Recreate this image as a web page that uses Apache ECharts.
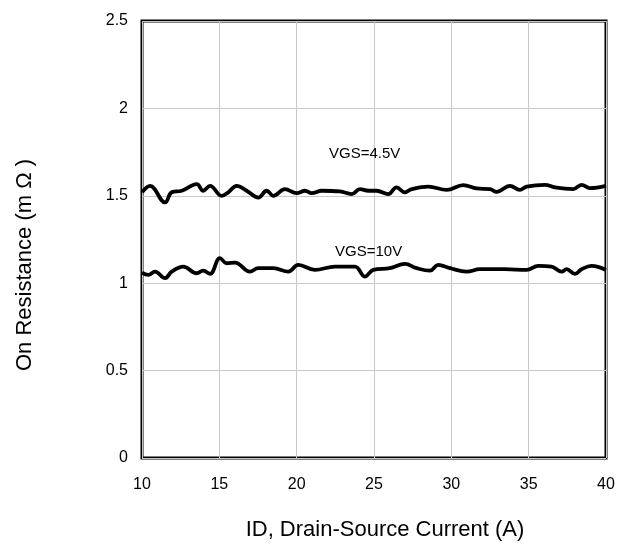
<!DOCTYPE html>
<html>
<head>
<meta charset="utf-8">
<script src="https://cdn.jsdelivr.net/npm/echarts@6/dist/echarts.min.js"></script>
<style>
  html, body { margin: 0; padding: 0; background: #fff; }
  #chart { width: 629px; height: 545px; }
</style>
</head>
<body>
<div id="chart"></div>
<script>
// 数据：近似值
const xTicks = [10, 15, 20, 25, 30, 35, 40];
const yTicks = [0, 0.5, 1, 1.5, 2, 2.5];

const id45 = [10.0, 10.52, 11.49, 11.92, 12.57, 13.54, 13.96, 14.40, 15.15, 15.58, 16.12, 16.77, 17.52, 18.06, 18.49, 19.24, 20.0, 20.54, 20.97, 21.62, 22.80, 23.56, 24.09, 24.63, 25.17, 25.92, 26.46, 27.0, 27.43, 28.51, 29.70, 30.77, 31.64, 32.50, 32.93, 33.79, 34.43, 34.87, 36.05, 36.70, 37.88, 38.42, 38.96, 40.0];
const r45 = [1.52, 1.557, 1.462, 1.52, 1.529, 1.567, 1.529, 1.557, 1.50, 1.52, 1.557, 1.529, 1.49, 1.529, 1.50, 1.538, 1.515, 1.529, 1.515, 1.529, 1.525, 1.51, 1.538, 1.529, 1.529, 1.51, 1.548, 1.52, 1.538, 1.553, 1.534, 1.561, 1.542, 1.538, 1.523, 1.557, 1.534, 1.553, 1.563, 1.548, 1.538, 1.563, 1.544, 1.557];

const id10 = [10.0, 10.41, 10.84, 11.49, 11.92, 12.67, 13.54, 13.96, 14.40, 15.04, 15.48, 16.01, 16.98, 17.52, 18.49, 19.46, 20.10, 21.18, 22.48, 23.77, 24.41, 24.95, 26.03, 27.0, 27.76, 28.62, 29.15, 29.91, 30.99, 31.85, 33.46, 34.87, 35.62, 36.48, 37.13, 37.45, 37.99, 38.42, 39.07, 40.0];
const r10 = [1.06, 1.048, 1.066, 1.029, 1.066, 1.095, 1.057, 1.072, 1.053, 1.143, 1.114, 1.118, 1.066, 1.086, 1.086, 1.066, 1.105, 1.076, 1.095, 1.095, 1.038, 1.076, 1.086, 1.11, 1.086, 1.072, 1.105, 1.086, 1.066, 1.08, 1.08, 1.076, 1.099, 1.095, 1.066, 1.08, 1.053, 1.08, 1.099, 1.076];

const labels = [
  { text: 'VGS=4.5V', coord: [24.4, 1.74] },
  { text: 'VGS=10V', coord: [24.65, 1.18] }
];

const FONT = 'Liberation Sans, Arial, sans-serif';

const chart = echarts.init(document.getElementById('chart'));

function pairs(xs, ys) {
  return xs.map((x, i) => [x, ys[i]]);
}

function curve(name, data, lbl) {
  return {
    name: name,
    type: 'line',
    data: data,
    smooth: 0.4,
    showSymbol: false,
    lineStyle: { color: '#000', width: 3.8 },
    markPoint: {
      symbol: 'circle',
      symbolSize: 0,
      label: {
        show: true,
        formatter: p => p.name,
        color: '#000',
        fontSize: 15,
        fontFamily: FONT
      },
      data: [{ name: lbl.text, coord: lbl.coord }]
    }
  };
}

const option = {
  animation: false,
  textStyle: { fontFamily: FONT, color: '#000' },
  grid: {
    left: 142,
    right: 23,
    top: 21,
    bottom: 87,
    show: true,
    borderColor: '#000',
    borderWidth: 3
  },
  xAxis: {
    type: 'value',
    min: 10,
    max: 40,
    interval: 5,
    axisLine: { show: false },
    axisTick: { show: false },
    axisLabel: {
      margin: 19,
      fontSize: 16,
      color: '#000',
      fontFamily: FONT,
      formatter: v => (xTicks.includes(v) ? String(v) : '')
    },
    splitLine: { show: true, lineStyle: { color: '#c8c8c8', width: 1 } }
  },
  yAxis: {
    type: 'value',
    min: 0,
    max: 2.5,
    interval: 0.5,
    axisLine: { show: false },
    axisTick: { show: false },
    axisLabel: {
      margin: 14,
      fontSize: 16,
      color: '#000',
      fontFamily: FONT,
      formatter: v => (yTicks.includes(v) ? String(v) : '')
    },
    splitLine: { show: true, lineStyle: { color: '#c8c8c8', width: 1 } }
  },
  graphic: [
    {
      type: 'text',
      x: 385,
      y: 530,
      style: {
        text: 'ID, Drain-Source Current (A)',
        font: '22px ' + FONT,
        fill: '#000',
        align: 'center',
        verticalAlign: 'middle'
      }
    },
    {
      type: 'text',
      x: 25,
      y: 265,
      rotation: Math.PI / 2,
      style: {
        text: 'On Resistance (m Ω )',
        font: '22px ' + FONT,
        fill: '#000',
        align: 'center',
        verticalAlign: 'middle'
      }
    }
  ],
  series: [
    curve('VGS=4.5V', pairs(id45, r45), labels[0]),
    curve('VGS=10V', pairs(id10, r10), labels[1])
  ]
};

chart.setOption(option);
</script>
</body>
</html>
